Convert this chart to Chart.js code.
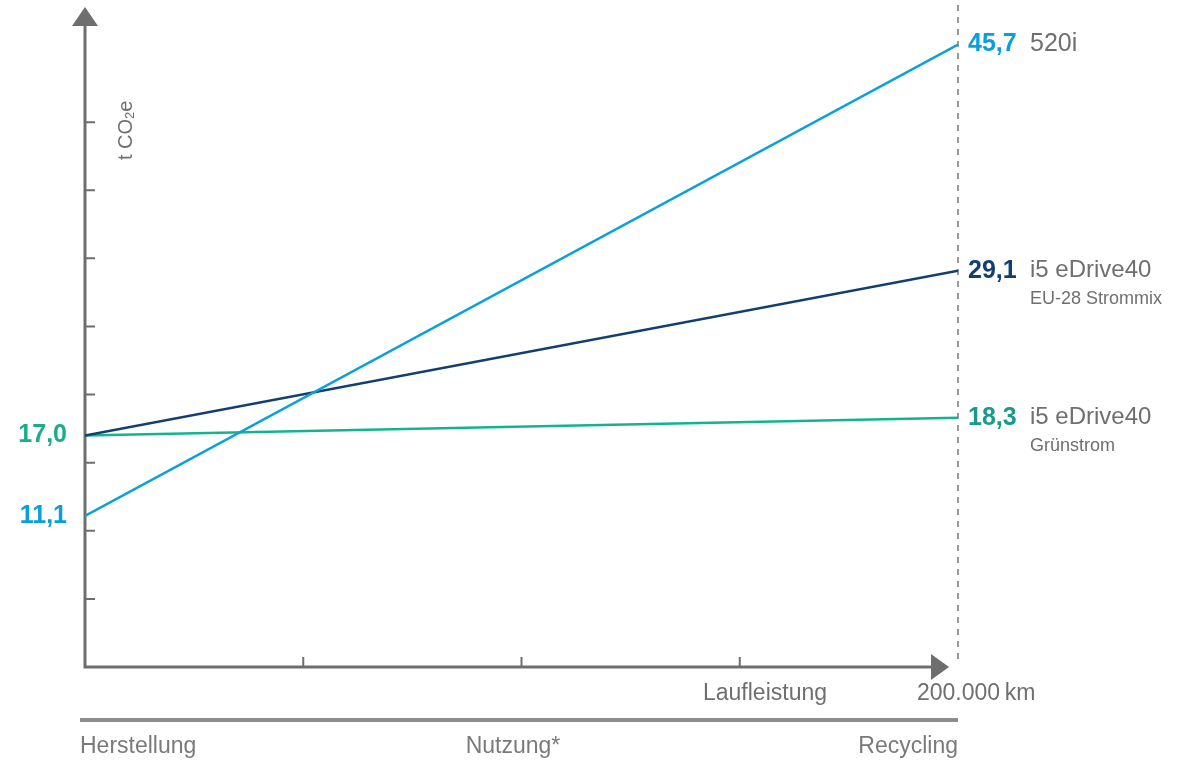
<!DOCTYPE html>
<html>
<head>
<meta charset="utf-8">
<script src="https://cdn.jsdelivr.net/npm/chart.js@4.4.1/dist/chart.umd.min.js"></script>
<style>
  body { margin: 0; background: #fff; }
  #wrap { width: 1191px; height: 762px; position: relative; }
</style>
</head>
<body>
<div id="wrap"><canvas id="co2"></canvas></div>
<script>
// distance driven (km) at production and at end of life
const kmPoints = [0, 200000];
const kmTicks = [50000, 100000, 150000];
const co2Ticks = [5, 10, 15, 20, 25, 30, 35, 40];

// t CO2e at start and end
const series520i = [11.1, 45.7];
const seriesEuMix = [17.0, 29.1];
const seriesGreen = [17.0, 18.3];

const endLabels = [
  { value: '45,7', name: '520i', sub: '', color: '#0a9fdb', y: series520i[1] },
  { value: '29,1', name: 'i5 eDrive40', sub: 'EU-28 Strommix', color: '#123f6e', y: seriesEuMix[1] },
  { value: '18,3', name: 'i5 eDrive40', sub: 'Grünstrom', color: '#1a9a8c', y: seriesGreen[1] }
];
const startLabels = [
  { value: '17,0', color: '#17ae88', y: seriesEuMix[0] },
  { value: '11,1', color: '#0a9fdb', y: series520i[0] }
];

const phaseLabels = ['Herstellung', 'Nutzung*', 'Recycling'];

const FONT = '"Liberation Sans", Arial, sans-serif';
const AXIS = '#6e6e6e';
const TEXT = '#6f6f6f';

function toPoints(vals) {
  return vals.map(function (v, i) { return { x: kmPoints[i], y: v }; });
}

//draws the axes with arrows and inward ticks
const axesPlugin = {
  id: 'axes',
  beforeDatasetsDraw: function (chart) {
    const ctx = chart.ctx;
    const xs = chart.scales.x, ys = chart.scales.y;
    const x0 = xs.getPixelForValue(0), y0 = ys.getPixelForValue(0);
    const xEnd = xs.getPixelForValue(200000);
    ctx.save();
    ctx.strokeStyle = AXIS;
    ctx.fillStyle = AXIS;
    ctx.lineWidth = 3;
    ctx.beginPath();
    ctx.moveTo(x0, y0 + 1.5);
    ctx.lineTo(x0, 24);
    ctx.moveTo(x0 - 1.5, y0);
    ctx.lineTo(935, y0);
    ctx.stroke();
    // arrow heads
    ctx.beginPath();
    ctx.moveTo(x0, 7); ctx.lineTo(x0 + 13, 26); ctx.lineTo(x0 - 13, 26); ctx.closePath();
    ctx.fill();
    ctx.beginPath();
    ctx.moveTo(949, y0); ctx.lineTo(931, y0 - 13); ctx.lineTo(931, y0 + 13); ctx.closePath();
    ctx.fill();
    // ticks
    ctx.lineWidth = 2;
    ctx.beginPath();
    co2Ticks.forEach(function (t) {
      const py = ys.getPixelForValue(t);
      ctx.moveTo(x0, py); ctx.lineTo(x0 + 10, py);
    });
    kmTicks.forEach(function (t) {
      const px = xs.getPixelForValue(t);
      ctx.moveTo(px, y0); ctx.lineTo(px, y0 - 10);
    });
    ctx.stroke();
    // dashed end line
    ctx.lineWidth = 1.5;
    ctx.strokeStyle = '#777';
    ctx.setLineDash([6, 6]);
    ctx.beginPath();
    ctx.moveTo(xEnd, 5); ctx.lineTo(xEnd, 660);
    ctx.stroke();
    ctx.restore();
  },
  afterDraw: function (chart) {
    const ctx = chart.ctx;
    const xs = chart.scales.x, ys = chart.scales.y;
    const x0 = xs.getPixelForValue(0), y0 = ys.getPixelForValue(0);
    const xEnd = xs.getPixelForValue(200000);
    ctx.save();
    ctx.textBaseline = 'middle';

    // end values + names
    endLabels.forEach(function (l) {
      const py = ys.getPixelForValue(l.y);
      ctx.font = 'bold 25px ' + FONT;
      ctx.fillStyle = l.color;
      ctx.textAlign = 'left';
      ctx.fillText(l.value, xEnd + 10, py);
      ctx.font = (l.sub ? '24px ' : '25px ') + FONT;
      ctx.fillStyle = TEXT;
      ctx.fillText(l.name, xEnd + 72, py);
      if (l.sub) {
        ctx.font = '18px ' + FONT;
        ctx.fillText(l.sub, xEnd + 72, py + 28);
      }
    });

    // start values
    startLabels.forEach(function (l) {
      const py = ys.getPixelForValue(l.y);
      ctx.font = 'bold 25px ' + FONT;
      ctx.fillStyle = l.color;
      ctx.textAlign = 'right';
      ctx.fillText(l.value, x0 - 18, py);
    });

    // y axis title, rotated
    ctx.save();
    ctx.translate(126, 160);
    ctx.rotate(-Math.PI / 2);
    ctx.textAlign = 'left';
    ctx.fillStyle = TEXT;
    ctx.font = '20px ' + FONT;
    ctx.fillText('t CO', 0, 0);
    let w = ctx.measureText('t CO').width;
    ctx.font = '13px ' + FONT;
    ctx.fillText('2', w, 4);
    w += ctx.measureText('2').width;
    ctx.font = '20px ' + FONT;
    ctx.fillText('e', w, 0);
    ctx.restore();

    // x axis titles
    ctx.fillStyle = TEXT;
    ctx.font = '23px ' + FONT;
    ctx.textAlign = 'left';
    ctx.fillText('Laufleistung', 703, y0 + 27);
    ctx.fillText('200.000\u2009km', 917, y0 + 27);

    // phase bar
    ctx.fillStyle = '#8c8c8c';
    ctx.fillRect(80, 718, xEnd - 80, 4);
    ctx.fillStyle = '#7a7a7a';
    ctx.font = '23px ' + FONT;
    ctx.textAlign = 'left';
    ctx.fillText(phaseLabels[0], 80, 747);
    ctx.textAlign = 'center';
    ctx.fillText(phaseLabels[1], 513, 747);
    ctx.textAlign = 'right';
    ctx.fillText(phaseLabels[2], xEnd, 747);
    ctx.restore();
  }
};

new Chart(document.getElementById('co2'), {
  type: 'line',
  data: {
    datasets: [
      { label: '520i', data: toPoints(series520i), borderColor: '#0aa0dc' },
      { label: 'i5 eDrive40 EU-28 Strommix', data: toPoints(seriesEuMix), borderColor: '#123f6d' },
      { label: 'i5 eDrive40 Grünstrom', data: toPoints(seriesGreen), borderColor: '#14b38f' }
    ]
  },
  options: {
    responsive: true,
    maintainAspectRatio: false,
    animation: false,
    layout: { padding: { left: 85, right: 233, top: 20, bottom: 95 } },
    elements: {
      line: { borderWidth: 2.5, tension: 0 },
      point: { radius: 0 }
    },
    plugins: { legend: { display: false }, tooltip: { enabled: false } },
    scales: {
      x: { type: 'linear', min: 0, max: 200000, display: false },
      y: { min: 0, max: 47.5, display: false }
    }
  },
  plugins: [axesPlugin]
});
</script>
</body>
</html>
